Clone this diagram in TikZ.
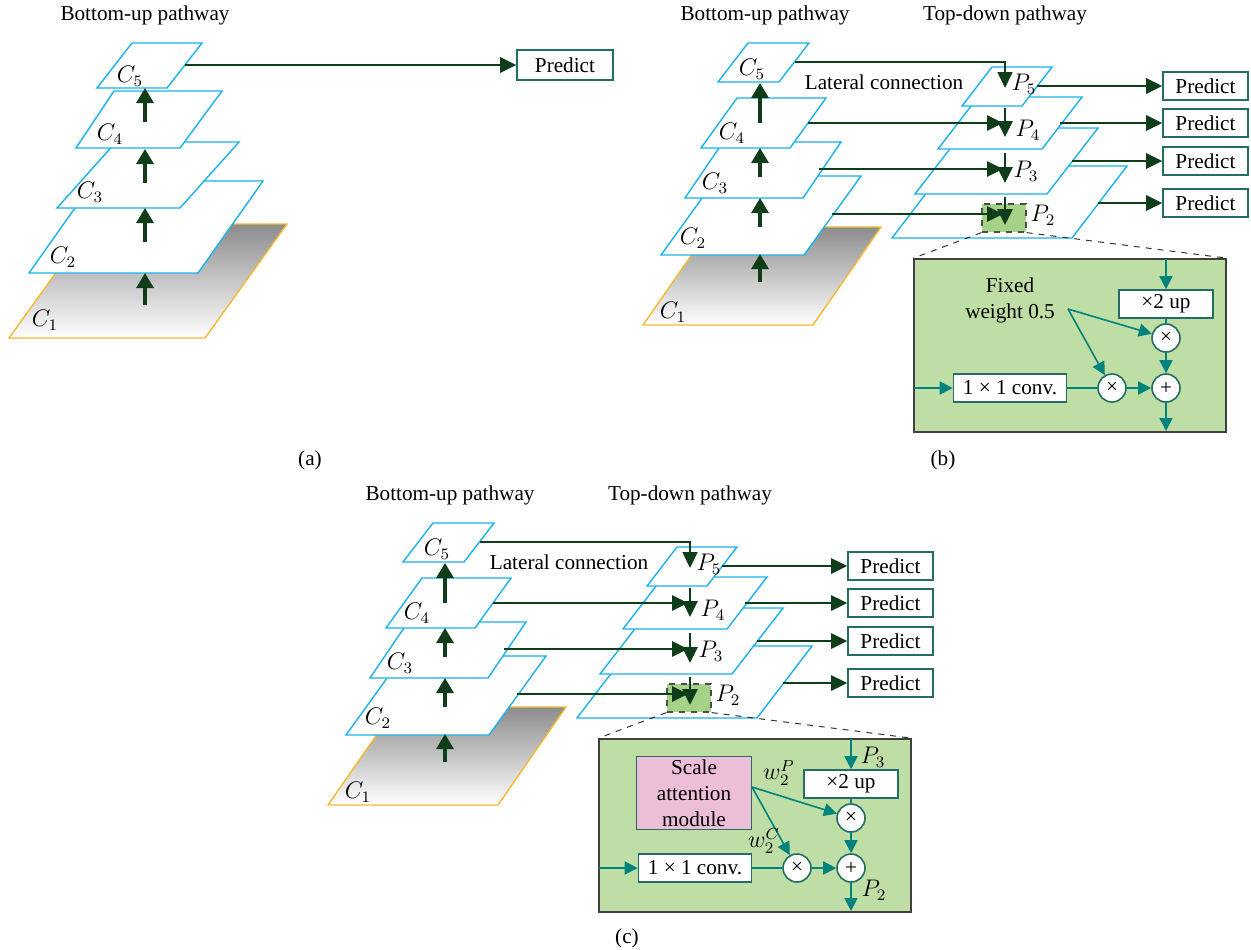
\documentclass[tikz,border=0pt]{standalone}
\usepackage{fontspec}
\setmainfont{Liberation Serif}
\usetikzlibrary{arrows.meta, positioning}

\definecolor{planeblue}{RGB}{25,178,235}
\definecolor{planeorange}{RGB}{245,185,50}
\definecolor{arrowgreen}{RGB}{15,60,25}
\definecolor{boxteal}{RGB}{35,110,100}
\definecolor{linkteal}{RGB}{0,130,125}
\definecolor{insetgreen}{RGB}{190,222,165}
\definecolor{patchgreen}{RGB}{165,210,135}
\definecolor{attnpink}{RGB}{236,190,216}

\begin{document}
\begin{tikzpicture}[
        x=0.5pt, y=-0.5pt,
        font=\fontsize{10.6}{13}\selectfont,
        % Etiquetas de planos
        lbl/.style={font=\fontsize{12}{14}\selectfont, inner sep=1pt},
        % Planos
        plane/.style={draw=planeblue, fill=white, line width=0.7pt},
        baseplane/.style={draw=planeorange, line width=0.7pt, top color=black!45, bottom color=white},
        % Flechas
        uparrow/.style={-{Triangle[width=8.5pt,length=7.5pt]}, line width=1.6pt, draw=arrowgreen},
        lateral/.style={-{Triangle[width=7.5pt,length=8pt]}, line width=1.4pt, draw=arrowgreen},
        thinlateral/.style={-{Triangle[width=7.5pt,length=8pt]}, line width=0.8pt, draw=arrowgreen},
        link/.style={-{Triangle[width=6.5pt,length=6.5pt]}, line width=0.8pt, draw=linkteal},
        plainlink/.style={line width=0.8pt, draw=linkteal},
        zoomline/.style={dashed, line width=0.5pt, draw=black!80},
        % Cajas
        predict/.style={draw=boxteal, fill=white, line width=0.8pt, minimum width=42.5pt, minimum height=14pt, inner sep=0pt},
        insetbox/.style={draw=black!75, fill=insetgreen, line width=0.8pt, inner sep=0pt, minimum width=156pt, minimum height=86.5pt},
        opbox/.style={draw=boxteal, fill=white, line width=0.8pt, minimum height=14pt, inner sep=0pt},
        opcirc/.style={circle, draw=boxteal, fill=white, line width=0.8pt, minimum size=14pt, inner sep=0pt},
        patch/.style={draw=black!70, dashed, fill=patchgreen, line width=0.6pt, minimum width=22pt, minimum height=14pt, inner sep=0pt},
        attn/.style={draw=boxteal, fill=attnpink, line width=0.8pt, align=center, minimum width=57.5pt, minimum height=36.5pt, inner sep=0pt},
        % Piramide con rama top-down, (b) y (c)
        fpn/.pic={
            \node (-bu) at (765,15) {Bottom-up pathway};
            \node (-td) at (1005,15) {Top-down pathway};
            % C1 ... C5
            \draw[baseplane] (643,325) -- (813,325) -- (881,227) -- (711,227) -- cycle;
            \draw[plane] (661,255) -- (804,255) -- (861,176) -- (718,176) -- cycle;
            \draw[plane] (685,198) -- (803,198) -- (841,142) -- (723,142) -- cycle;
            \draw[plane] (701,148) -- (790,148) -- (826,98) -- (737,98) -- cycle;
            \draw[plane] (718,82) -- (779,82) -- (809,43) -- (748,43) -- cycle;
            \node[lbl] (-c1) at (673,312) {$C_1$};
            \node[lbl] (-c2) at (693,238) {$C_2$};
            \node[lbl] (-c3) at (715,183) {$C_3$};
            \node[lbl] (-c4) at (732,133) {$C_4$};
            \node[lbl] (-c5) at (752,69) {$C_5$};
            % P2 ... P5
            \draw[plane] (892,238) -- (1072,238) -- (1127,166) -- (947,166) -- cycle;
            \draw[plane] (915,194) -- (1047,194) -- (1098,128) -- (966,128) -- cycle;
            \draw[plane] (938,149) -- (1042,149) -- (1082,97) -- (978,97) -- cycle;
            \draw[plane] (962,106) -- (1022,106) -- (1052,67) -- (992,67) -- cycle;
            \node[patch] (-patch) at (1004,218) {};
            \node[lbl] (-p2) at (1043,215) {$P_2$};
            \node[lbl] (-p3) at (1026,171) {$P_3$};
            \node[lbl] (-p4) at (1028,130) {$P_4$};
            \node[lbl] (-p5) at (1024,84) {$P_5$};
            \node (-lat) at (884,82) {Lateral connection};
            % flechas bottom-up
            \foreach \i/\ys/\ye in {1/282/254, 2/227/198, 3/177/148, 4/123/83} {
                \coordinate (-u\i) at (760,\ys);
                \coordinate (-v\i) at (760,\ye);
                \draw[uparrow] (-u\i) -- (-v\i);
            }
            % conexiones laterales
            \coordinate (-l5) at (795,62);
            \coordinate (-t5) at (1005,88);
            \draw[thinlateral] (-l5) -| (-t5);
            \foreach \i/\xs/\y in {4/808/123, 3/819/169, 2/832/214} {
                \coordinate (-l\i) at (\xs,\y);
                \coordinate (-t\i) at (1003,\y);
                \draw[lateral] (-l\i) -- (-t\i);
            }
            % flechas top-down
            \foreach \i/\ys/\ye in {5/108/137, 4/153/183, 3/197/225} {
                \coordinate (-d\i) at (1005,\ys);
                \coordinate (-e\i) at (1005,\ye);
                \draw[lateral] (-d\i) -- (-e\i);
            }
            % Predict
            \foreach \i/\xs/\y in {5/1037/86, 4/1060/123, 3/1072/161, 2/1098/203} {
                \node[predict] (-pr\i) at (1205.5,\y) {Predict};
                \coordinate (-s\i) at (\xs,\y);
                \draw[lateral] (-s\i) -- (-pr\i);
            }
            % detalle
            \node[insetbox] (-inset) at (1070,345.5) {};
            \draw[zoomline] (-patch.south west) -- (-inset.north west);
            \draw[zoomline] (-patch.south east) -- (-inset.north east);
            \node[opbox, minimum width=47pt] (-up) at (1166,304) {×2 up};
            \node[opcirc] (-mul1) at (1166,338) {×};
            \node[opcirc] (-add) at (1166,388) {+};
            \node[opbox, minimum width=56.5pt] (-conv) at (1010,388) {1 × 1 conv.};
            \node[opcirc] (-mul2) at (1112,388) {×};
            \coordinate (-in) at (1166,259);
            \coordinate (-out) at (1166,431);
            \coordinate (-left) at (914,388);
            \draw[link] (-in) -- (-up);
            \draw[plainlink] (-up) -- (-mul1);
            \draw[link] (-mul1) -- (-add);
            \draw[link] (-add) -- (-out);
            \draw[link] (-left) -- (-conv);
            \draw[plainlink] (-conv) -- (-mul2);
            \draw[link] (-mul2) -- (-add);
        }
    ]

    \useasboundingbox (0,0) rectangle (1251,949);

    % (a) BOTTOM-UP
    \node (a-title) at (145,15) {Bottom-up pathway};
    \draw[baseplane] (9,338) -- (205,338) -- (287,224) -- (91,224) -- cycle;
    \draw[plane] (29,273) -- (198,273) -- (263,181) -- (94,181) -- cycle;
    \draw[plane] (57,208) -- (180,208) -- (239,142) -- (116,142) -- cycle;
    \draw[plane] (76,148) -- (180,148) -- (222,91) -- (114,91) -- cycle;
    \draw[plane] (97,88) -- (167,88) -- (202,43) -- (132,43) -- cycle;
    \node[lbl] (a-c1) at (45,320) {$C_1$};
    \node[lbl] (a-c2) at (63,257) {$C_2$};
    \node[lbl] (a-c3) at (90,192) {$C_3$};
    \node[lbl] (a-c4) at (110,134) {$C_4$};
    \node[lbl] (a-c5) at (130,76) {$C_5$};
    \foreach \i/\ys/\ye in {1/305/273, 2/242/208, 3/183/149, 4/122/88} {
        \coordinate (a-u\i) at (145,\ys);
        \coordinate (a-v\i) at (145,\ye);
        \draw[uparrow] (a-u\i) -- (a-v\i);
    }
    \node[predict, minimum width=48pt, minimum height=15pt] (a-pred) at (565,65) {Predict};
    \coordinate (a-c5e) at (185,65);
    \draw[lateral] (a-c5e) -- (a-pred);
    \node (a-tag) at (310,460) {(a)};

    % (b) PESO FIJO
    \pic (b) at (0,0) {fpn};
    \node[align=center] (b-fixed) at (1010,300) {Fixed\\weight 0.5};
    \coordinate (b-fork) at (1068,309);
    \draw[link] (b-fork) -- (b-mul1);
    \draw[link] (b-fork) -- (b-mul2);
    \node (b-tag) at (943,460) {(b)};

    % (c) ATENCION DE ESCALA
    \pic (c) at (-315,480) {fpn};
    \node[attn] (c-attn) at (694,793) {Scale\\attention\\module};
    \coordinate (c-fork) at (752,787);
    \draw[link] (c-fork) -- (c-mul1);
    \draw[link] (c-fork) -- (c-mul2);
    \node[lbl, inner sep=0pt] (c-wp) at (779,773) {$w_2^P$};
    \node[lbl, inner sep=0pt] (c-wc) at (764,841) {$w_2^C$};
    \node[lbl] (c-p3) at (873,757) {$P_3$};
    \node[lbl] (c-p2) at (874,890) {$P_2$};
    \node (c-tag) at (627,938) {(c)};

\end{tikzpicture}
\end{document}
